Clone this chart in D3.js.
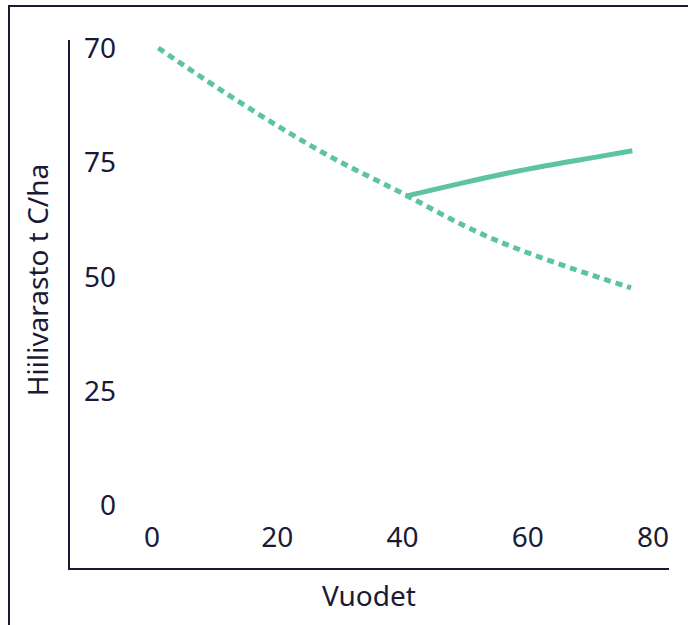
<!DOCTYPE html>
<html>
<head>
<meta charset="utf-8">
<script src="https://cdn.jsdelivr.net/npm/d3@7"></script>
<style>
  body { margin: 0; background: #fff; }
  svg { display: block; }
  text { font-family: "Noto Sans", sans-serif; fill: #1b1a36; }
</style>
</head>
<body>
<div id="chart"></div>
<script>
// values
var yTickValues = [100, 75, 50, 25, 0];
var yTickLabels = ["70", "75", "50", "25", "0"]; // as printed in the original
var xTickValues = [0, 20, 40, 60, 80];

var baseYears  = [1, 10, 20, 30, 40, 50, 60, 70, 76.5];
var baseCarbon = [100, 91.7, 83.0, 75.1, 68.2, 61.0, 55.2, 50.4, 47.5];

var altYears  = [40.5, 50, 60, 70, 76.7];
var altCarbon = [67.6, 70.6, 73.5, 75.9, 77.5];

var width = 688, height = 625;
var ink = "#1b1a36";
var green = "#5cc49f";

var svg = d3.select("#chart").append("svg")
  .attr("width", width)
  .attr("height", height);

var x = d3.scaleLinear().domain([0, 80]).range([152, 653]);
var y = d3.scaleLinear().domain([0, 100]).range([505, 48]);

/* outer frame (only top and left edges are visible) */
svg.append("path")
  .attr("d", "M9," + height + "V6H" + width)
  .attr("fill", "none")
  .attr("stroke", ink)
  .attr("stroke-width", 2);

/* axis lines */
svg.append("path")
  .attr("d", "M69,40V569H669")
  .attr("fill", "none")
  .attr("stroke", ink)
  .attr("stroke-width", 2);

/* tick labels */
svg.selectAll(".ylab")
  .data(yTickValues)
 .enter().append("text")
  .attr("class", "ylab")
  .attr("x", 116)
  .attr("y", function(d) { return y(d) + 10; })
  .attr("text-anchor", "end")
  .attr("font-size", 28)
  .text(function(d, i) { return yTickLabels[i]; });

svg.selectAll(".xlab")
  .data(xTickValues)
 .enter().append("text")
  .attr("class", "xlab")
  .attr("x", function(d) { return x(d); })
  .attr("y", 547)
  .attr("text-anchor", "middle")
  .attr("font-size", 28)
  .text(function(d) { return d; });

/* axis titles */
svg.append("text")
  .attr("x", 369)
  .attr("y", 606)
  .attr("text-anchor", "middle")
  .attr("font-size", 28)
  .text("Vuodet");

svg.append("text")
  .attr("transform", "translate(48,280) rotate(-90)")
  .attr("text-anchor", "middle")
  .attr("font-size", 28)
  .text("Hiilivarasto t C/ha");

/* lines */
var line = d3.line()
  .x(function(d) { return x(d[0]); })
  .y(function(d) { return y(d[1]); })
  .curve(d3.curveNatural);

svg.append("path")
  .datum(d3.zip(baseYears, baseCarbon))
  .attr("d", line)
  .attr("fill", "none")
  .attr("stroke", green)
  .attr("stroke-width", 5)
  .attr("stroke-dasharray", "7,5");

svg.append("path")
  .datum(d3.zip(altYears, altCarbon))
  .attr("d", line)
  .attr("fill", "none")
  .attr("stroke", green)
  .attr("stroke-width", 5);
</script>
</body>
</html>
